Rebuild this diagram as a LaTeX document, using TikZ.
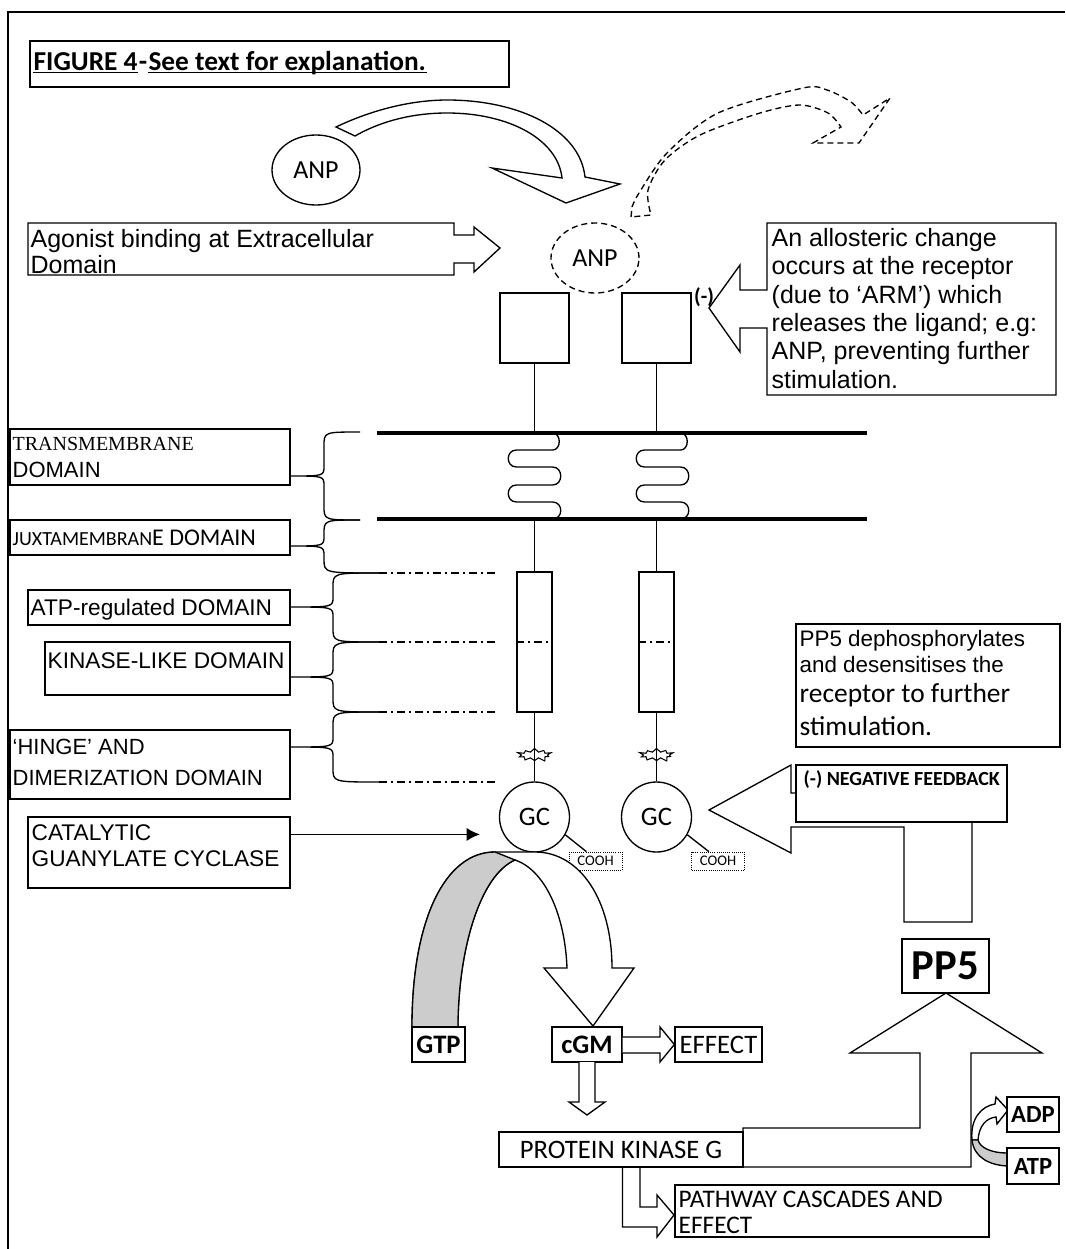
\documentclass[tikz,border=0pt]{standalone}
\usepackage{fontspec}
\setmainfont{Liberation Sans}
\newfontfamily\calfont{Carlito}
\newfontfamily\timesfont{Liberation Serif}
\usepackage{tikz}
\usetikzlibrary{calc, fit, shapes.geometric, shapes.symbols, arrows.meta}
\newdimen\upx \upx=0.75pt
\newcommand{\fs}[2]{\fontsize{#1}{#2}\selectfont}

\begin{document}
\begin{tikzpicture}[x=0.75pt, y=-0.75pt, line width=1pt,
    box/.style={draw, inner sep=0pt, fit={#1}},
    txt/.style={anchor=base west, inner sep=0pt, align=left},
    block/.style={draw, fill=white, line join=miter},
    ligand/.style={draw, ellipse, minimum width=88\upx, minimum height=70\upx, inner sep=0pt, font=\calfont\fs{19.5}{23}},
    cell/.style={draw, circle, minimum size=70\upx, inner sep=0pt, font=\calfont\fs{20}{24}},
    tag/.style={draw, fill=white, inner sep=1pt},
    gone/.style={dash pattern=on 4.5pt off 3pt},
    dashdot/.style={line width=0.8pt, dash pattern=on 6pt off 3pt on 1.5pt off 3pt},
    membrane/.style={line width=3.4pt},
    burst/.style={starburst, draw, line width=0.8pt, starburst points=10, starburst point height=5\upx, minimum width=36\upx, minimum height=16\upx, inner sep=0pt},
    cooh/.style={draw, densely dotted, line width=0.6pt, minimum width=53\upx, minimum height=18\upx, inner sep=1pt, font=\calfont\fs{11}{12}}]
\useasboundingbox (0,0) rectangle (1065,1249);

% 1. Khung va tieu de
\draw (8,1249) -- (8,12) -- (1065,12);
\node[box={(30,41) (509,87)}] (title) {};
\node[txt, font=\calfont\bfseries\fs{20.5}{24}] (fig) at (33,70) {FIGURE 4};
\node[txt, font=\calfont\bfseries\fs{20.5}{24}] (hyph) at (fig.base east) {-};
\node[txt, font=\calfont\bfseries\fs{20.5}{24}] (see) at (hyph.base east) {See text for explanation.};
\draw ([yshift=-2pt]fig.base west) -- ([yshift=-2pt]fig.base east);
\draw ([yshift=-2pt]see.base west) -- ([yshift=-2pt]see.base east);

% 2. ANP va cac mui ten cong
\node[ligand] (anp) at (316,170) {ANP};
\node[ligand, gone] (anpb) at (595,258) {ANP};
\draw[block] (336,127) .. controls (380,106) and (420,100) .. (447,100)
    .. controls (520,100) and (580,130) .. (585,177) -- (620,184) -- (566,203)
    -- (492,168) -- (562,178) .. controls (558,140) and (510,113) .. (447,113)
    .. controls (415,113) and (383,120) .. (355,136) -- cycle;
\draw[gone] (631,217) -- plot[smooth] coordinates {(632,207) (639,193) (667,153) (718,113) (803,88) (827,90) (851,102) (863,115)}
    -- (890,98) -- (859,143) -- (813,143)
    -- plot[smooth] coordinates {(841,127) (828,113) (800,105) (760,113) (700,135) (665,160) (648,190) (651,215)} -- cycle;

\draw[block] (28,223) -- (454,223) -- (454,235) -- (474,235) -- (474,227) -- (500,248) -- (474,272)
    -- (474,263) -- (454,263) -- (454,275) -- (28,275) -- cycle;
\node[txt, font=\fs{18.75}{19.5}] (agon) at (30,273) {Agonist binding at Extracellular\\Domain};

\draw[block] (767,290) -- (740,290) -- (740,265) -- (709,308) -- (740,352) -- (740,328) -- (767,328)
    -- (767,395) -- (1056,395) -- (1056,223) -- (767,223) -- cycle;
\node[txt, font=\fs{18.75}{21.2}] (allo) at (771,388) {An allosteric change\\occurs at the receptor\\(due to ‘ARM’) which\\releases the ligand; e.g:\\ANP, preventing further\\stimulation.};
\node[inner sep=0pt, font=\calfont\bfseries\fs{16}{19}] (neg) at (704,297) {(-)};

% 3. Chuoi thu the
\foreach \n/\x in {1/534.5, 2/656.5} {
    \node[draw, minimum width=69\upx, minimum height=70\upx] (sq\n) at (\x,328) {};
    \node[draw, minimum width=35\upx, minimum height=140\upx] (dom\n) at (\x,642) {};
    \node[cell] (gc\n) at (\x,817) {GC};
    \draw (sq\n.south) -- (\x,433);
    \draw (\x,519) -- (dom\n.north);
    \draw (dom\n.south) -- (gc\n.north);
    \draw[dashdot] (dom\n.west) -- (dom\n.east);
    \node[burst] (burst\n) at (\x,755) {};
}
\node[cooh] (cooh1) at (595.5,861) {COOH};
\node[cooh] (cooh2) at (718,861) {COOH};
\draw (gc1.-30) -- ($(cooh1.north west)!0.33!(cooh1.north east)$);
\draw (gc2.-30) -- ($(cooh2.north west)!0.33!(cooh2.north east)$);

% 4. Mang te bao
\draw[membrane] (377,433) -- (867,433);
\draw[membrane] (377,519) -- (867,519);
\foreach \x in {534.5, 662.5}
    \draw (\x+18,433) .. controls (\x+27,433) and (\x+27,450) .. (\x+18,450) -- (\x-18,450)
        .. controls (\x-29,450) and (\x-29,467) .. (\x-18,467) -- (\x+18,467)
        .. controls (\x+29,467) and (\x+29,485) .. (\x+18,485) -- (\x-18,485)
        .. controls (\x-29,485) and (\x-29,502) .. (\x-18,502) -- (\x+18,502)
        .. controls (\x+29,502) and (\x+29,519) .. (\x+18,519);

% 5. Cac mien
\foreach \xv/\yt/\ym/\yb/\xe/\xf in {324/432/476/520/360/360, 324/520/546/573/360/379,
        333/573/607/642/379/379, 333/642/677/712/379/379, 333/712/747/782/379/379}
    \draw (\xe,\yt) .. controls (\xv,\yt) .. (\xv,\yt+14) -- (\xv,\ym-10) .. controls (\xv,\ym) .. (290,\ym)
        .. controls (\xv,\ym) .. (\xv,\ym+10) -- (\xv,\yb-14) .. controls (\xv,\yb) .. (\xf,\yb);
\foreach \y in {573,642,712,782}
    \draw[dashdot] (379,\y) -- (497,\y);

\node[box={(10,429) (290,485)}] (tm) {};
\node[txt, font=\timesfont\fs{15}{18}] (tmt) at (12,450) {TRANSMEMBRANE};
\node[txt, font=\fs{16.5}{20}] (tmd) at (12,477) {DOMAIN};
\node[box={(10,520) (290,555)}] (jx) {};
\node[txt] (jxt) at (12,545) {{\calfont\fs{15}{18}JUXTAMEMBRAN}{\calfont\fs{18}{22}E DOMAIN}};
\node[box={(28,590) (290,625)}] (atpd) {};
\node[txt, font=\fs{17}{20}] (atpt) at (30,615) {ATP-regulated DOMAIN};
\node[box={(45,642) (290,695)}] (kin) {};
\node[txt, font=\fs{17}{20}] (kint) at (47,668) {KINASE-LIKE DOMAIN};
\node[box={(10,730) (290,799)}] (hinge) {};
\node[txt, font=\fs{16.5}{23.25}] (hinget) at (12,785) {‘HINGE’ AND\\DIMERIZATION DOMAIN};
\node[box={(28,817) (290,888)}] (cat) {};
\node[txt, font=\fs{17}{19.5}] (catt) at (31,866) {CATALYTIC\\GUANYLATE CYCLASE};
\coordinate (catin) at ($(cat.north east)!0.25!(cat.south east)$);
\draw[-{Latex[length=10pt,width=10pt]}, shorten >=19\upx] (catin) -- (catin -| gc1.west);

% 6. Tao cGMP
\draw[block] (412,1027) .. controls (412,920) and (445,852) .. (495,852) -- (535,852)
    .. controls (580,852) and (612,900) .. (612,968) -- (634,968) -- (593,1026) -- (544,968) -- (567,968)
    .. controls (565,915) and (545,870) .. (515,860) .. controls (480,875) and (458,950) .. (458,1027) -- cycle;
\draw[fill=gray!40] (412,1027) .. controls (412,920) and (445,852) .. (495,852) -- (515,860)
    .. controls (480,875) and (458,950) .. (458,1027) -- cycle;
\node[tag, minimum width=53\upx, minimum height=35\upx, font=\calfont\bfseries\fs{20}{24}] (gtp) at (438.5,1044.5) {GTP};
\node[tag, minimum width=70\upx, minimum height=35\upx, font=\calfont\bfseries\fs{20}{24}] (cgm) at (587,1044.5) {cGM};
\node[tag, minimum width=87\upx, minimum height=35\upx, font=\calfont\fs{20}{24}] (effect) at (718.5,1044.5) {EFFECT};
\draw[block] (cgm.east |- 0,1037) -- (660,1037) -- (660,1027) -- (effect.west) -- (660,1062) -- (660,1053) -- (cgm.east |- 0,1053);
\draw[block] (579,1062) -- (579,1102) -- (569,1102) -- (587,1115) -- (605,1102) -- (595,1102) -- (595,1062);

% 7. Protein kinase G va PP5
\draw[block] (743,1128) -- (920,1128) -- (920,1053) -- (850,1053) -- (946,993) -- (1042,1053) -- (971,1053)
    -- (971,1167) -- (743,1167) -- cycle;
\draw[block] (622.5,1167) -- (622.5,1227) -- (657,1227) -- (657,1237) -- (674,1215) -- (657,1195) -- (657,1207)
    -- (640,1207) -- (640,1167);
\node[tag, minimum width=244\upx, minimum height=35\upx, font=\calfont\fs{20}{24}] (pkg) at (621,1149.5) {PROTEIN KINASE G};
\node[box={(675,1185) (989,1237)}] (path) {};
\node[txt, font=\calfont\fs{19}{19.5}] (patht) at (678,1233) {PATHWAY CASCADES AND\\EFFECT};
\node[tag, minimum width=87\upx, minimum height=54\upx, font=\calfont\bfseries\fs{32}{36}] (pp5) at (945.5,966) {PP5};

\draw[block] (972,1140) .. controls (970,1118) and (982,1106) .. (995,1104) -- (996,1097) -- (1008,1110)
    -- (997,1124) -- (996,1117) .. controls (986,1118) and (979,1126) .. (978,1140) -- cycle;
\draw[fill=gray!40] (972,1140) .. controls (974,1158) and (990,1165) .. (1007,1166) -- (1007,1153)
    .. controls (992,1153) and (980,1148) .. (978,1140) -- cycle;
\node[tag, minimum width=52\upx, minimum height=35\upx, font=\calfont\bfseries\fs{18.5}{22}] (adp) at (1033,1114.5) {ADP};
\node[tag, minimum width=52\upx, minimum height=36\upx, font=\calfont\bfseries\fs{18.5}{22}] (atp) at (1033,1166) {ATP};

% 8. Phan hoi am
\draw[block] (972,922) -- (972,793) -- (791,793) -- (791,765) -- (709,810) -- (791,853) -- (791,827)
    -- (904,827) -- (904,922) -- cycle;
\node[box={(796,765) (1007,822)}, fill=white] (fb) {};
\node[txt, font=\calfont\bfseries\fs{15}{18}] (fbt) at (803,785) {(-) NEGATIVE FEEDBACK};
\node[box={(796,624) (1060,747)}] (pp5d) {};
\node[txt, font=\fs{16.8}{19.5}] (pp5da) at (799,672) {PP5 dephosphorylates\\and desensitises the};
\node[txt, font=\calfont\fs{20.6}{24.75}] (pp5db) at (799,735) {receptor to further\\stimulation.};
\end{tikzpicture}
\end{document}
